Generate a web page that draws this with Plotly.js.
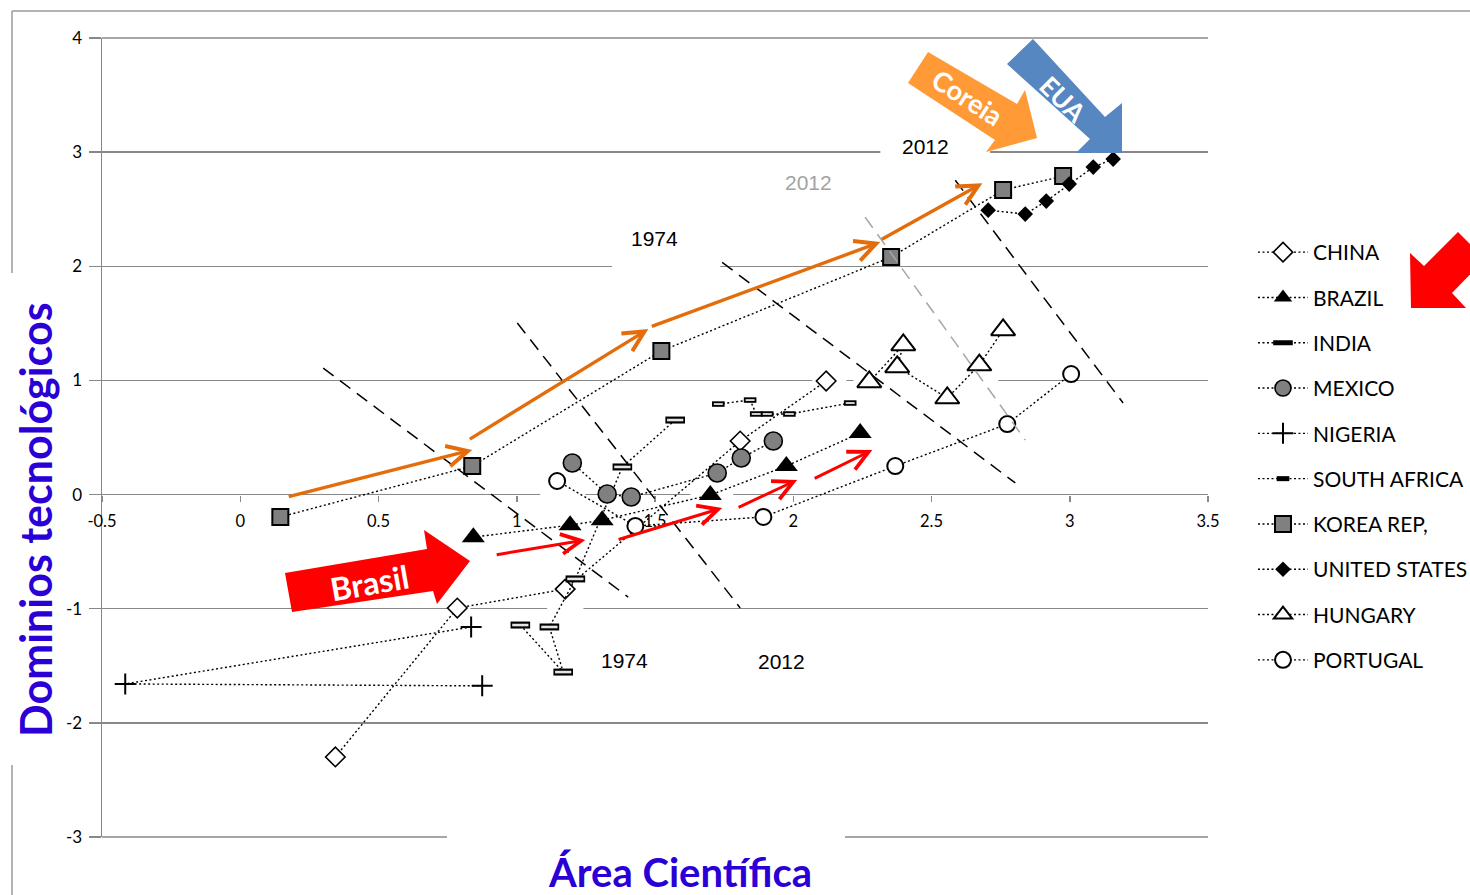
<!DOCTYPE html>
<html><head><meta charset="utf-8">
<script src="https://cdn.plot.ly/plotly-3.0.1.min.js"></script>
<style>html,body{margin:0;padding:0;background:#fff;overflow:hidden}#chart{width:1470px;height:895px}</style>
</head><body><div id="chart"></div>
<script>
// ---- data ----
const countries = ["CHINA","BRAZIL","INDIA","MEXICO","NIGERIA","SOUTH AFRICA","KOREA REP,","UNITED STATES","HUNGARY","PORTUGAL"];
const chinaX = [0.344, 0.785, 1.175, 1.808, 2.119];
const chinaY = [-2.299, -0.994, -0.828, 0.469, 0.995];
const brazilX = [0.843, 1.193, 1.309, 1.700, 1.975, 2.242];
const brazilY = [-0.373, -0.268, -0.224, -0.004, 0.250, 0.539];
const indiaX = [1.013, 1.168, 1.118, 1.212, 1.382, 1.573];
const indiaY = [-1.143, -1.555, -1.160, -0.739, 0.242, 0.653];
const mexicoX = [1.201, 1.327, 1.414, 1.725, 1.812, 1.928];
const mexicoY = [0.277, 0.005, -0.021, 0.189, 0.320, 0.469];
const nigeriaX = [0.835, -0.416, 0.875];
const nigeriaY = [-1.160, -1.659, -1.676];
const safricaX = [1.729, 1.844, 1.866, 1.906, 1.986, 2.206];
const safricaY = [0.793, 0.828, 0.706, 0.706, 0.706, 0.802];
const koreaX = [0.145, 0.839, 1.523, 2.354, 2.759, 2.976];
const koreaY = [-0.196, 0.250, 1.258, 2.081, 2.668, 2.790];
const usaX = [2.705, 2.839, 2.915, 2.998, 3.085, 3.157];
const usaY = [2.492, 2.457, 2.571, 2.720, 2.869, 2.939];
const hungaryX = [2.275, 2.398, 2.376, 2.557, 2.673, 2.759];
const hungaryY = [0.987, 1.311, 1.118, 0.846, 1.135, 1.442];
const portugalX = [1.146, 1.429, 1.892, 2.369, 2.774, 3.005];
const portugalY = [0.119, -0.275, -0.196, 0.250, 0.618, 1.056];

const xTickVals = [-0.5, 0, 0.5, 1, 1.5, 2, 2.5, 3, 3.5];
const xTickText = ["-0.5","0","0.5","1","1.5","2","2.5","3","3.5"];
const yTickVals = [-3, -2, -1, 0, 1, 2, 3, 4];
const yTickText = ["-3","-2","-1","0","1","2","3","4"];

// ---- helpers for decoration positions (pixel -> paper) ----
const PL=102, PR=1208, PT=38, PB=837;
const px = x => (x-PL)/(PR-PL);
const py = y => (PB-y)/(PB-PT);
function poly(pts){ return 'M' + pts.map(p => px(p[0]).toFixed(5)+','+py(p[1]).toFixed(5)).join(' L') + ' Z'; }

const dotLine = {color:'#000', width:1.4, dash:'2px,2.5px'};
const traces = [
  {name:countries[0], x:chinaX, y:chinaY, mode:'lines+markers', line:dotLine,
   marker:{symbol:'diamond', size:15, color:'#fff', line:{color:'#000', width:1.6}}, legendgroup:'g0'},
  {name:countries[1], x:brazilX, y:brazilY, mode:'lines+markers', line:dotLine,
   marker:{symbol:'triangle-up', size:20, color:'#000', line:{color:'#000', width:0}}, legendgroup:'g1'},
  {name:countries[2], x:indiaX, y:indiaY, mode:'lines+markers', line:dotLine,
   marker:{symbol:'line-ew-open', size:14, color:'#000', line:{color:'#000', width:7}}, legendgroup:'g2'},
  {name:countries[2], x:indiaX, y:indiaY, mode:'markers', showlegend:false,
   marker:{symbol:'line-ew-open', size:11.6, color:'#e4e4e4', line:{color:'#e4e4e4', width:2.6}}, legendgroup:'g2'},
  {name:countries[3], x:mexicoX, y:mexicoY, mode:'lines+markers', line:dotLine,
   marker:{symbol:'circle', size:18, color:'#808080', line:{color:'#000', width:1.6}}, legendgroup:'g3'},
  {name:countries[4], x:nigeriaX, y:nigeriaY, mode:'lines+markers', line:dotLine,
   marker:{symbol:'cross-thin-open', size:15, color:'#000', line:{color:'#000', width:2}}, legendgroup:'g4'},
  {name:countries[5], x:safricaX, y:safricaY, mode:'lines+markers', line:dotLine,
   marker:{symbol:'line-ew-open', size:9, color:'#000', line:{color:'#000', width:5.5}}, legendgroup:'g5'},
  {name:countries[5], x:safricaX, y:safricaY, mode:'markers', showlegend:false,
   marker:{symbol:'line-ew-open', size:6.4, color:'#e4e4e4', line:{color:'#e4e4e4', width:1.8}}, legendgroup:'g5'},
  {name:countries[6], x:koreaX, y:koreaY, mode:'lines+markers', line:dotLine,
   marker:{symbol:'square', size:16, color:'#808080', line:{color:'#000', width:2}}, legendgroup:'g6'},
  {name:countries[7], x:usaX, y:usaY, mode:'lines+markers', line:dotLine,
   marker:{symbol:'diamond', size:12, color:'#000', line:{color:'#000', width:0}}, legendgroup:'g7'},
  {name:countries[8], x:hungaryX, y:hungaryY, mode:'lines+markers', line:dotLine,
   marker:{symbol:'triangle-up', size:21, color:'#fff', line:{color:'#000', width:2}}, legendgroup:'g8'},
  {name:countries[9], x:portugalX, y:portugalY, mode:'lines+markers', line:dotLine,
   marker:{symbol:'circle', size:16, color:'#fff', line:{color:'#000', width:2}}, legendgroup:'g9'}
];

function dashed(x0,y0,x1,y1,color){
  return {type:'line', xref:'x', yref:'y', x0:x0, y0:y0, x1:x1, y1:y1, layer:'above',
          line:{color:color, width:1.5, dash:'13px,8px'}};
}
function gap(x0,x1,yv){
  return {type:'rect', xref:'x', yref:'y', x0:x0, x1:x1, y0:yv-0.035, y1:yv+0.035, layer:'between',
          fillcolor:'#fff', line:{width:0}};
}
function pline(x0,y0,x1,y1,color){
  return {type:'line', xref:'paper', yref:'paper', x0:px(x0), y0:py(y0), x1:px(x1), y1:py(y1),
          layer:'below', line:{color:color || '#9a9a9a', width:1.5}};
}
const shapes = [
  // chart frame
  pline(12,11,1470,11), pline(12,11,12,273), pline(12,765,12,895),
  // edge gridlines (top at 4, bottom at -3 with the title gap)
  pline(102,38,1208,38,'#888'), pline(102,837,447,837,'#888'), pline(845,837,1208,837,'#888'),
  // gaps in gridlines left by text boxes
  gap(2.315,2.712,3), gap(1.345,1.736,2), gap(2.069,2.192,1), gap(2.217,2.741,1),
  gap(1.085,1.248,0), gap(1.627,1.783,0), gap(0.749,0.832,-1), gap(1.110,1.241,-1),
  // iso lines
  dashed(0.300,1.108,1.403,-0.898,'#000'),
  dashed(1.002,1.503,1.808,-0.993,'#000'),
  dashed(1.743,2.034,2.803,0.102,'#000'),
  dashed(2.260,2.430,2.839,0.478,'#a6a6a6'),
  dashed(2.586,2.754,3.193,0.802,'#000'),
  // block arrows
  {type:'path', xref:'paper', yref:'paper', layer:'above', fillcolor:'#ff0000', line:{width:0},
   path:poly([[285,573],[427,549],[424,530],[470,561],[437,604],[433,591],[292,612]])},
  {type:'path', xref:'paper', yref:'paper', layer:'above', fillcolor:'#ff9a37', line:{width:0},
   path:poly([[928,52],[1017,104],[1025,90],[1037,138],[986,152],[995,140],[908,83]])},
  {type:'path', xref:'paper', yref:'paper', layer:'above', fillcolor:'#5787c1', line:{width:0},
   path:poly([[1033,39],[1105,117],[1122,103],[1122,153],[1076,153],[1090,139],[1007,64]])},
  {type:'path', xref:'paper', yref:'paper', layer:'above', fillcolor:'#ff0000', line:{width:0},
   path:poly([[1410,253],[1424,266],[1458,232],[1485,259],[1452,293],[1466,308],[1411,308]])}
];

function arrow(x0,y0,x1,y1,color,w,size){
  return {x:x1, y:y1, ax:x0, ay:y0, xref:'x', yref:'y', axref:'x', ayref:'y', text:'',
          showarrow:true, arrowhead:5, arrowsize:size, arrowwidth:w, arrowcolor:color,
          standoff:0, startstandoff:0};
}
function yearLabel(x,y,t,color){
  return {x:x, y:y, xref:'x', yref:'y', text:t, showarrow:false, xanchor:'center', yanchor:'middle',
          font:{family:'Liberation Sans, Arial, sans-serif', size:21, color:color}};
}
function arrowText(x,y,t,ang,size){
  return {x:px(x), y:py(y), xref:'paper', yref:'paper', text:t, showarrow:false, textangle:ang,
          xanchor:'center', yanchor:'middle', font:{family:'Lato', size:size, color:'#fff', weight:700}};
}
const orange = '#e46c0a';
const annotations = [
  arrow(0.170,-0.021,0.839,0.391,orange,3.4,1.2),
  arrow(0.825,0.478,1.476,1.450,orange,3.4,1.2),
  arrow(1.483,1.468,2.315,2.212,orange,3.4,1.2),
  arrow(2.315,2.229,2.684,2.728,orange,3.4,1.2),
  arrow(0.922,-0.529,1.248,-0.398,'#ff0000',3,1.3),
  arrow(1.363,-0.398,1.743,-0.118,'#ff0000',3,1.3),
  arrow(1.797,-0.118,2.014,0.128,'#ff0000',3,1.3),
  arrow(2.072,0.136,2.286,0.390,'#ff0000',3,1.3),
  yearLabel(2.477,3.052,'2012','#000'),
  yearLabel(2.054,2.737,'2012','#a3a3a3'),
  yearLabel(1.497,2.247,'1974','#000'),
  yearLabel(1.389,-1.457,'1974','#000'),
  yearLabel(1.957,-1.466,'2012','#000'),
  arrowText(369,582,'Brasil',-10,32),
  arrowText(968,97,'Coreia',33,27),
  arrowText(1063,99,'EUA',45,26),
  {x:px(35), y:py(520), xref:'paper', yref:'paper', text:'Dominios tecnológicos', showarrow:false,
   textangle:-90, xanchor:'center', yanchor:'middle', font:{family:'Lato', size:43, color:'#2a00d6', weight:700}},
  {x:px(680), y:py(872), xref:'paper', yref:'paper', text:'Área Científica', showarrow:false,
   xanchor:'center', yanchor:'middle', font:{family:'Lato', size:40, color:'#2a00d6', weight:700}}
];

const layout = {
  width:1470, height:895,
  margin:{l:PL, r:1470-PR, t:PT, b:895-PB, pad:0, autoexpand:false},
  paper_bgcolor:'#fff', plot_bgcolor:'#fff',
  font:{family:'Lato', color:'#000'},
  showlegend:true,
  legend:{x:px(1253), y:py(232), xanchor:'left', yanchor:'top', font:{family:'Lato', size:21, color:'#000'},
          itemwidth:50, traceorder:'grouped', tracegroupgap:15, bgcolor:'rgba(0,0,0,0)'},
  xaxis:{range:[-0.5,3.5], anchor:'free', position:3/7, tickmode:'array', tickvals:xTickVals, ticktext:xTickText,
         ticks:'outside', ticklen:6, tickwidth:1.5, tickcolor:'#888', showgrid:false, zeroline:false, showline:false,
         tickfont:{family:'Lato', size:16.5, color:'#000'}, ticklabelstandoff:6, automargin:false},
  yaxis:{range:[-3,4], tickmode:'array', tickvals:yTickVals, ticktext:yTickText,
         ticks:'outside', ticklen:12, tickwidth:1.5, tickcolor:'#888', showgrid:true, gridcolor:'#888', gridwidth:1.5,
         showline:true, linecolor:'#888', linewidth:1.5, zeroline:false, automargin:false,
         tickfont:{family:'Lato', size:17, color:'#000'}, ticklabelstandoff:3},
  shapes:shapes, annotations:annotations
};
Plotly.newPlot('chart', traces, layout, {displayModeBar:false, staticPlot:true});
</script></body></html>
